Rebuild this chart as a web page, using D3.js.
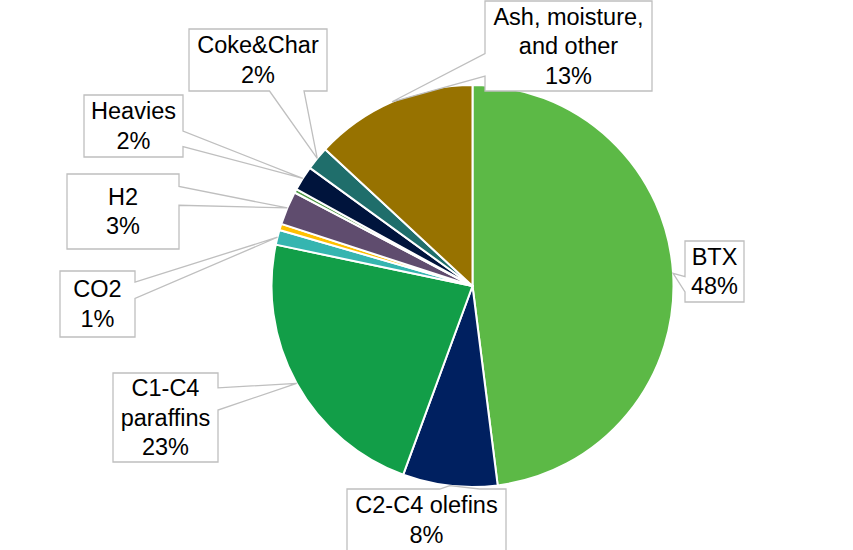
<!DOCTYPE html>
<html>
<head>
<meta charset="utf-8">
<script src="https://cdn.jsdelivr.net/npm/d3@7"></script>
<style>
  html, body { margin: 0; padding: 0; background: #fff; }
  svg { display: block; }
</style>
</head>
<body>
<svg id="chart"></svg>
<script>
// product distribution, clockwise from 12 o'clock
const categories = ["BTX", "C2-C4 olefins", "C1-C4 paraffins", "CO2", "Minor A", "H2", "Minor B", "Heavies", "Coke&Char", "Ash, moisture, and other"];
const shares = [48.0, 7.6, 22.7, 1.2, 0.5, 2.7, 0.3, 2.0, 1.9, 13.1];
const labelLines = [["BTX"], ["C2-C4 olefins"], ["C1-C4", "paraffins"], ["CO2"], null, ["H2"], null, ["Heavies"], ["Coke&Char"], ["Ash, moisture,", "and other"]];
const colors = ["#5cb946", "#002060", "#129e48", "#35b5b0", "#ffc000", "#5f4c6e", "#4f9a45", "#00143c", "#1f6e6b", "#977200"];

// callout box placement (x, y, w, h)
const boxes = {
    "BTX": [685, 241, 59, 61],
    "C2-C4 olefins": [347, 489, 159, 62],
    "C1-C4 paraffins": [113, 373, 105, 89],
    "CO2": [60, 271, 75, 66],
    "H2": [67, 174, 112, 75],
    "Heavies": [84, 95, 99, 62],
    "Coke&Char": [189, 29, 138, 62],
    "Ash, moisture, and other": [485, 1, 167, 90]
};

const width = 853, height = 550;
const cx = 472.5, cy = 286, radius = 201;

const data = categories.map((c, i) => ({ name: c, value: shares[i], lines: labelLines[i], color: colors[i] }));

const svg = d3.select("#chart").attr("width", width).attr("height", height);

const pie = d3.pie().sort(null).value(d => d.value);
const arc = d3.arc().innerRadius(0).outerRadius(radius);
const arcs = pie(data);

const g = svg.append("g").attr("transform", `translate(${cx},${cy})`);
g.selectAll("path")
    .data(arcs)
    .enter()
    .append("path")
    .attr("d", arc)
    .attr("fill", d => d.data.color)
    .attr("stroke", "#fff")
    .attr("stroke-width", 2)
    .attr("stroke-linejoin", "round");

// Office style wedge callout
function calloutPath(b, tip) {
    const [x, y, w, h] = b;
    const hc = x + w / 2, vc = y + h / 2;
    const dx = tip[0] - hc, dy = tip[1] - vc;
    const dq = dx * h / w;
    const x1 = x + w * (dx > 0 ? 7 : 2) / 12, x2 = x + w * (dx > 0 ? 10 : 5) / 12;
    const y1 = y + h * (dy > 0 ? 7 : 2) / 12, y2 = y + h * (dy > 0 ? 10 : 5) / 12;
    let pts;
    if (Math.abs(dy) > Math.abs(dq)) {
        if (dy < 0) pts = [[x, y], [x1, y], tip, [x2, y], [x + w, y], [x + w, y + h], [x, y + h]];
        else pts = [[x, y], [x + w, y], [x + w, y + h], [x2, y + h], tip, [x1, y + h], [x, y + h]];
    } else {
        if (dx < 0) pts = [[x, y], [x + w, y], [x + w, y + h], [x, y + h], [x, y2], tip, [x, y1]];
        else pts = [[x, y], [x + w, y], [x + w, y1], tip, [x + w, y2], [x + w, y + h], [x, y + h]];
    }
    return "M" + pts.map(p => p.join(",")).join("L") + "Z";
}

const pct = d3.format(".0f");
const lineH = 29.5;

const labels = svg.append("g")
    .selectAll("g")
    .data(arcs.filter(d => d.data.lines))
    .enter()
    .append("g");

labels.each(function (d) {
    const b = boxes[d.data.name];
    const mid = (d.startAngle + d.endAngle) / 2;
    const tip = [cx + radius * Math.sin(mid), cy - radius * Math.cos(mid)];
    const sel = d3.select(this);
    sel.append("path")
        .attr("d", calloutPath(b, tip))
        .attr("fill", "#fff")
        .attr("stroke", "#bfbfbf")
        .attr("stroke-width", 1.3);
    const lines = d.data.lines.concat([pct(d.data.value) + "%"]);
    const tx = b[0] + b[2] / 2, ty = b[1] + b[3] / 2;
    sel.append("text")
        .attr("text-anchor", "middle")
        .style("font-family", "'Liberation Sans', Arial, sans-serif")
        .style("font-size", "23.5px")
        .attr("fill", "#000")
        .selectAll("tspan")
        .data(lines)
        .enter()
        .append("tspan")
        .attr("x", tx)
        .attr("y", (t, i) => ty + (i - (lines.length - 1) / 2) * lineH)
        .attr("dy", "0.35em")
        .text(t => t);
});
</script>
</body>
</html>
